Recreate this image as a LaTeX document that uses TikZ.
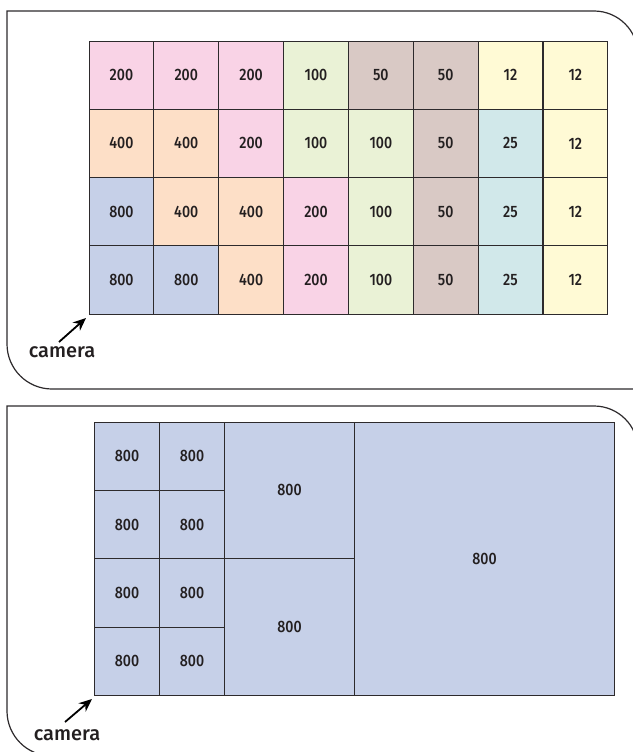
\documentclass[tikz,border=0pt]{standalone}
\usepackage{fontspec}
\setmainfont{Fira Sans}[UprightFont=* Medium]
\newfontfamily\numfont{Fira Sans}[UprightFont=* Medium, FakeStretch=0.86]
\usetikzlibrary{arrows.meta}
\definecolor{cblue}{RGB}{198,208,232}
\definecolor{cpeach}{RGB}{253,223,199}
\definecolor{cpink}{RGB}{249,211,230}
\definecolor{cgreen}{RGB}{234,242,214}
\definecolor{ctaupe}{RGB}{217,201,197}
\definecolor{cyellow}{RGB}{255,250,213}
\definecolor{ccyan}{RGB}{209,232,234}
\definecolor{cline}{RGB}{45,42,44}
\definecolor{ctext}{RGB}{35,31,32}
\tikzset{
  cellbox/.style={draw=cline, line width=0.9pt, inner sep=0pt, outer sep=0pt,
    text=ctext, font=\numfont\fontsize{16.5}{19}\selectfont},
  topcell/.style={cellbox, minimum width=64.75pt, minimum height=68.3pt},
  frameline/.style={draw=cline, line width=1.2pt},
  camlabel/.style={text=ctext, font=\fontsize{20}{24}\selectfont, inner sep=0pt},
  camarrow/.style={draw=black, line width=1.8pt, -{Stealth[length=13pt,width=11pt]}},
  c800/.style={fill=cblue}, c400/.style={fill=cpeach}, c200/.style={fill=cpink},
  c100/.style={fill=cgreen}, c50/.style={fill=ctaupe}, c25/.style={fill=ccyan},
  c12/.style={fill=cyellow}
}
\begin{document}
\begin{tikzpicture}[x=1pt,y=-1pt]
\useasboundingbox (0,0) rectangle (632,752);
% frames
\draw[frameline] (7,11) -- (594,11) arc[start angle=-90, end angle=0, radius=44] -- (638,389) -- (52,389) arc[start angle=90, end angle=180, radius=45] -- cycle;
\draw[frameline] (7,406) -- (594,406) arc[start angle=-90, end angle=0, radius=44] -- (638,756) -- (52,756) arc[start angle=90, end angle=180, radius=45] -- cycle;
% top grid
\foreach \row [count=\j from 0] in {{200,200,200,100,50,50,12,12},{400,400,200,100,100,50,25,12},{800,400,400,200,100,50,25,12},{800,800,400,200,100,50,25,12}}{
  \foreach \v [count=\i from 0] in \row {
    \node[topcell, c\v] (t-\j-\i) at ({89+64.85*(\i+0.5)},{41+68.3*(\j+0.5)}) {\v};
  }
}
% bottom grid
\foreach \j in {0,1,2,3}{
  \foreach \i in {0,1}{
    \node[cellbox, c800, minimum width=65pt, minimum height=68.4pt] (s-\j-\i) at ({94.5+65*(\i+0.5)},{422+68.4*(\j+0.5)}) {800};
  }
}
\node[cellbox, c800, minimum width=130pt, minimum height=136.8pt] (m-0) at (289.5,490.4) {800};
\node[cellbox, c800, minimum width=130pt, minimum height=136.8pt] (m-1) at (289.5,627.2) {800};
\node[cellbox, c800, minimum width=260pt, minimum height=273.6pt] (big) at (484.5,558.8) {800};
% camera labels
\node[camlabel] (cam1) at (62,352) {camera};
\coordinate (cam1tail) at (59,342);
\coordinate (cam1tip) at (86,318);
\draw[camarrow] (cam1tail) -- (cam1tip);
\node[camlabel] (cam2) at (67,735) {camera};
\coordinate (cam2tail) at (65,722);
\coordinate (cam2tip) at (92,699);
\draw[camarrow] (cam2tail) -- (cam2tip);
\end{tikzpicture}
\end{document}
